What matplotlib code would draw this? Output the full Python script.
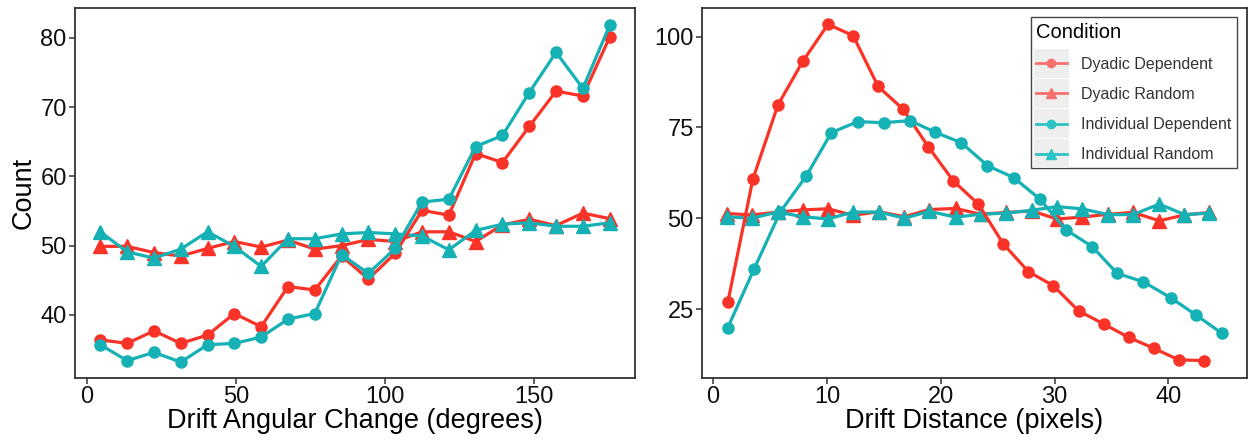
import matplotlib
matplotlib.use("Agg")
import matplotlib.pyplot as plt
from matplotlib.lines import Line2D
from matplotlib.patches import Rectangle
from matplotlib.legend_handler import HandlerLine2D

plt.rcParams['font.family'] = ['Liberation Sans', 'DejaVu Sans']

# ---------------- Left panel: Drift Angular Change ----------------
angle_x = [4.5, 13.5, 22.5, 31.5, 40.5, 49.5, 58.5, 67.5, 76.5, 85.5,
           94.5, 103.5, 112.5, 121.5, 130.5, 139.5, 148.5, 157.5, 166.5, 175.5]
angle_dyadic_dep = [36.4, 35.9, 37.7, 35.9, 37.1, 40.2, 38.3, 44.1, 43.6, 48.5,
                    45.2, 48.9, 55.1, 54.4, 63.3, 62.0, 67.2, 72.3, 71.6, 80.1]
angle_indiv_dep = [35.7, 33.4, 34.6, 33.2, 35.7, 35.9, 36.8, 39.4, 40.2, 48.7,
                   46.0, 49.6, 56.3, 56.7, 64.3, 65.9, 72.1, 77.9, 72.7, 81.8]
angle_dyadic_rand = [49.9, 49.9, 49.0, 48.5, 49.6, 50.6, 49.8, 50.8, 49.5, 50.0,
                     50.9, 50.6, 52.0, 52.0, 50.6, 53.0, 53.8, 52.9, 54.7, 53.9]
angle_indiv_rand = [52.0, 49.1, 48.2, 49.5, 52.0, 49.9, 47.0, 51.0, 51.0, 51.7,
                    51.9, 51.7, 51.4, 49.4, 52.2, 53.1, 53.3, 52.8, 52.8, 53.3]

# ---------------- Right panel: Drift Distance ----------------
dist_x_dyadic_dep = [1.3, 3.5, 5.7, 7.9, 10.1, 12.3, 14.5, 16.7, 18.9, 21.1,
                     23.3, 25.5, 27.7, 29.9, 32.1, 34.3, 36.5, 38.7, 40.9, 43.1]
dist_dyadic_dep = [26.9, 60.8, 81.2, 93.3, 103.4, 100.3, 86.3, 80.0, 69.7, 60.3,
                   53.9, 42.9, 35.3, 31.4, 24.5, 20.9, 17.2, 14.2, 11.0, 10.8]
dist_x_indiv_dep = [1.3, 3.6, 5.9, 8.2, 10.4, 12.7, 15.0, 17.3, 19.5, 21.8,
                    24.1, 26.4, 28.7, 31.0, 33.3, 35.5, 37.8, 40.2, 42.4, 44.7]
dist_indiv_dep = [19.9, 36.0, 51.7, 61.7, 73.6, 76.6, 76.3, 76.9, 73.7, 70.8,
                  64.5, 61.2, 55.3, 46.8, 42.2, 34.8, 32.5, 28.1, 23.4, 18.3]
dist_x_rand = [1.2, 3.4, 5.7, 7.9, 10.1, 12.3, 14.6, 16.8, 19.0, 21.3,
               23.5, 25.7, 28.0, 30.2, 32.4, 34.7, 36.9, 39.2, 41.4, 43.6]
dist_dyadic_rand = [51.3, 50.9, 51.7, 52.3, 52.6, 50.8, 51.8, 50.4, 52.4, 52.7,
                    51.1, 51.6, 52.0, 49.8, 50.3, 51.1, 51.6, 49.3, 50.9, 51.6]
dist_indiv_rand = [50.4, 50.0, 51.7, 50.4, 49.8, 51.7, 51.7, 50.0, 51.9, 50.3,
                   51.1, 51.4, 52.2, 53.2, 52.6, 51.0, 51.0, 53.9, 51.0, 51.4]

conditions = ["Dyadic Dependent", "Dyadic Random", "Individual Dependent", "Individual Random"]

RED = "#FA3328"
TEAL = "#16B1B4"
RED_LEG = "#F8706B"
TEAL_LEG = "#2EC3C5"

W, H = 1254, 443
fig = plt.figure(figsize=(W / 100, H / 100), dpi=100)

ax1 = fig.add_axes([75 / W, 1 - 378 / H, (635 - 75) / W, (378 - 8) / H])
ax2 = fig.add_axes([702 / W, 1 - 378 / H, (1247 - 702) / W, (378 - 8) / H])

lw = 2.3
ms_c = 8
ms_t = 9.5

def draw(ax, x, y, color, marker):
    ms = ms_c if marker == 'o' else ms_t
    ax.plot(x, y, color=color, lw=lw, marker=marker, ms=ms, mec=color, mfc=color,
            solid_joinstyle='round')

draw(ax1, angle_x, angle_dyadic_rand, RED, '^')
draw(ax1, angle_x, angle_indiv_rand, TEAL, '^')
draw(ax1, angle_x, angle_dyadic_dep, RED, 'o')
draw(ax1, angle_x, angle_indiv_dep, TEAL, 'o')

draw(ax2, dist_x_rand, dist_dyadic_rand, RED, '^')
draw(ax2, dist_x_rand, dist_indiv_rand, TEAL, '^')
draw(ax2, dist_x_dyadic_dep, dist_dyadic_dep, RED, 'o')
draw(ax2, dist_x_indiv_dep, dist_indiv_dep, TEAL, 'o')

ax1.set_xlim(-4.0, 184.0)
ax1.set_ylim(30.9, 84.3)
ax1.set_xticks([0, 50, 100, 150])
ax1.set_yticks([40, 50, 60, 70, 80])
ax1.set_xlabel("Drift Angular Change (degrees)", fontsize=19.5, labelpad=0)
ax1.set_ylabel("Count", fontsize=19.5, labelpad=3)

ax2.set_xlim(-0.97, 46.9)
ax2.set_ylim(6.0, 107.9)
ax2.set_xticks([0, 10, 20, 30, 40])
ax2.set_yticks([25, 50, 75, 100])
ax2.set_xlabel("Drift Distance (pixels)", fontsize=19.5, labelpad=0)

for ax in (ax1, ax2):
    ax.set_facecolor("white")
    for s in ax.spines.values():
        s.set_color("#333333")
        s.set_linewidth(1.3)
    ax.tick_params(axis='both', labelsize=17, length=4, width=1.1,
                   pad=2, direction='out', colors="#333333")
    for lab in ax.get_xticklabels() + ax.get_yticklabels():
        lab.set_color("#111111")


class KeyHandler(HandlerLine2D):
    def create_artists(self, legend, orig_handle, xdescent, ydescent, width, height,
                       fontsize, trans):
        rect = Rectangle((-xdescent - 2, -ydescent - 6.5), width + 4, height + 13,
                         facecolor="#EEEEEE", edgecolor="none", transform=trans)
        arts = super().create_artists(legend, orig_handle, xdescent, ydescent,
                                      width, height, fontsize, trans)
        return [rect] + list(arts)


handles = [
    Line2D([], [], color=RED_LEG, lw=2, marker='o', ms=6),
    Line2D([], [], color=RED_LEG, lw=2, marker='^', ms=7),
    Line2D([], [], color=TEAL_LEG, lw=2, marker='o', ms=6),
    Line2D([], [], color=TEAL_LEG, lw=2, marker='^', ms=7),
]
hmap = {h: KeyHandler() for h in handles}
leg = ax2.legend(handles, conditions, title="Condition", loc='upper right',
                 bbox_to_anchor=((1237 - 702) / (1247 - 702), (378 - 17) / (378 - 8)),
                 fontsize=11.5, title_fontsize=14.5, frameon=True, fancybox=False,
                 edgecolor="#444444", framealpha=1, borderpad=0.35,
                 handlelength=1.9, handletextpad=0.9, labelspacing=0.95,
                 alignment='left', borderaxespad=0, handler_map=hmap)
leg.get_frame().set_linewidth(1.0)
for t in leg.get_texts():
    t.set_color("#333333")

fig.savefig("out.png", dpi=100, facecolor="white")
